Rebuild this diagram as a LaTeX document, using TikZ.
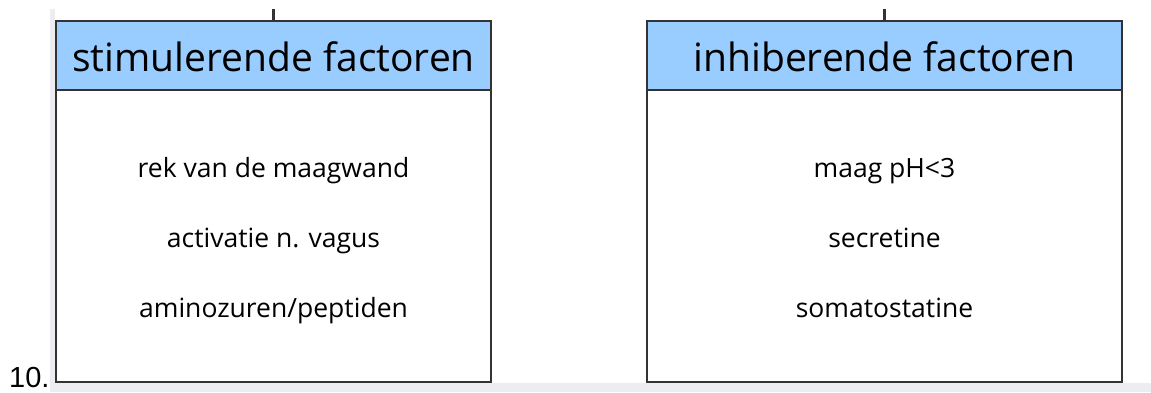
\documentclass[tikz,border=0pt]{standalone}
\usepackage{fontspec}
\setmainfont{Open Sans}
\newfontfamily\arialfont{Liberation Sans}
\definecolor{hdr}{RGB}{153,204,255}
\definecolor{edge}{RGB}{51,51,51}
\definecolor{strip}{RGB}{236,237,241}
\begin{document}
\begin{tikzpicture}[x=1pt,y=-1pt,
  hdrbox/.style={draw=edge, fill=hdr, line width=1.8pt, minimum height=69pt, inner sep=0pt, outer sep=0pt, anchor=north west},
  bodybox/.style={draw=edge, fill=white, line width=1.8pt, minimum height=292pt, inner sep=0pt, outer sep=0pt, anchor=north west},
  hdrtext/.style={font=\fontsize{39}{39}\selectfont, inner sep=0pt, anchor=base},
  item/.style={font=\fontsize{26.5}{26.5}\selectfont, inner sep=0pt, anchor=base},
  link/.style={draw=edge, line width=2.2pt}]
\useasboundingbox (0,0) rectangle (1151,392);
% page margin strips
\fill[strip] (50,9) rectangle (55,392);
\fill[strip] (50,383) rectangle (1151,392);
% left box
\node[bodybox, minimum width=435pt] (lb) at (56,90) {};
\node[hdrbox, minimum width=435pt] (lh) at (56,21) {};
\node[hdrtext] (lht) at (273.5,71) {stimulerende factoren};
\node[item] (l1) at (273.5,177) {rek van de maagwand};
\node[item] (l2) at (273.5,247) {activatie n. vagus};
\node[item] (l3) at (273.5,317) {aminozuren/peptiden};
\coordinate (lt) at (273.5,9);
\draw[link] (lt) -- (lt |- lh.north);
% right box
\node[bodybox, minimum width=475pt] (rb) at (647,90) {};
\node[hdrbox, minimum width=475pt] (rh) at (647,21) {};
\node[hdrtext] (rht) at (884.5,71) {inhiberende factoren};
\node[item] (r1) at (884.5,177) {maag pH<3};
\node[item] (r2) at (884.5,247) {secretine};
\node[item] (r3) at (884.5,317) {somatostatine};
\coordinate (rt) at (884.5,9);
\draw[link] (rt) -- (rt |- rh.north);
% number
\node[font=\arialfont\fontsize{29}{29}\selectfont, inner sep=0pt, anchor=base west] (num) at (9,387) {10.};
\end{tikzpicture}
\end{document}
